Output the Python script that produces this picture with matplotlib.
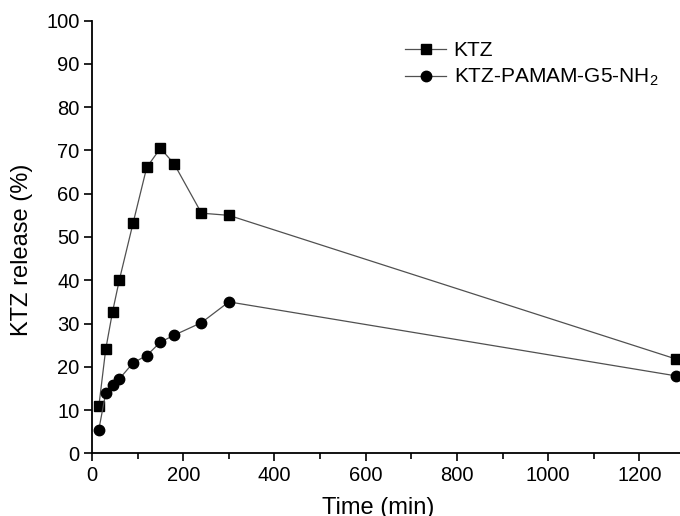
import matplotlib
matplotlib.use("Agg")
import matplotlib.pyplot as plt
from matplotlib.ticker import MultipleLocator

plt.rcParams['font.family'] = ['Liberation Sans', 'DejaVu Sans']
plt.rcParams['mathtext.fontset'] = 'custom'
plt.rcParams['mathtext.rm'] = 'Liberation Sans'
plt.rcParams['mathtext.it'] = 'Liberation Sans'
plt.rcParams['mathtext.default'] = 'regular'

time_ktz = [15, 30, 45, 60, 90, 120, 150, 180, 240, 300, 1280]
ktz = [10.9, 24.0, 32.7, 40.1, 53.2, 66.1, 70.5, 66.9, 55.5, 55.0, 21.8]
time_pam = [15, 30, 45, 60, 90, 120, 150, 180, 240, 300, 1280]
pamam = [5.5, 13.9, 15.7, 17.2, 20.9, 22.6, 25.7, 27.3, 30.2, 35.0, 17.9]

fig = plt.figure(figsize=(6.8, 5.16), dpi=100)
ax = fig.add_axes([0.1353, 0.1215, 0.8647, 0.8385])

ax.plot(time_ktz, ktz, color='#505050', lw=0.9, marker='s', ms=6.5,
        mfc='black', mec='black', label='KTZ', clip_on=False, zorder=3)
ax.plot(time_pam, pamam, color='#505050', lw=0.9, marker='o', ms=7.5,
        mfc='black', mec='black', label='KTZ-PAMAM-G5-NH$_2$', clip_on=False, zorder=3)

ax.set_xlim(0, 1289)
ax.set_ylim(0, 100)
ax.xaxis.set_major_locator(MultipleLocator(200))
ax.xaxis.set_minor_locator(MultipleLocator(100))
ax.yaxis.set_major_locator(MultipleLocator(10))
ax.spines['top'].set_visible(False)
ax.spines['right'].set_visible(False)
for s in ['left', 'bottom']:
    ax.spines[s].set_linewidth(1.3)
ax.tick_params(which='major', direction='out', length=6, width=1.2, labelsize=14.5, pad=3)
ax.tick_params(which='minor', direction='out', length=4, width=1.2)

ax.set_xlabel('Time (min)', fontsize=17)
ax.set_ylabel('KTZ release (%)', fontsize=17)
ax.xaxis.set_label_coords(0.486, -0.101)
ax.yaxis.set_label_coords(-0.100, 0.47)

leg = ax.legend(loc='upper left', bbox_to_anchor=(0.583, 0.937), bbox_transform=fig.transFigure,
                frameon=False, fontsize=15, handlelength=2.0, handletextpad=0.35,
                labelspacing=0.35, borderaxespad=0)

fig.savefig('out.png', dpi=100)
